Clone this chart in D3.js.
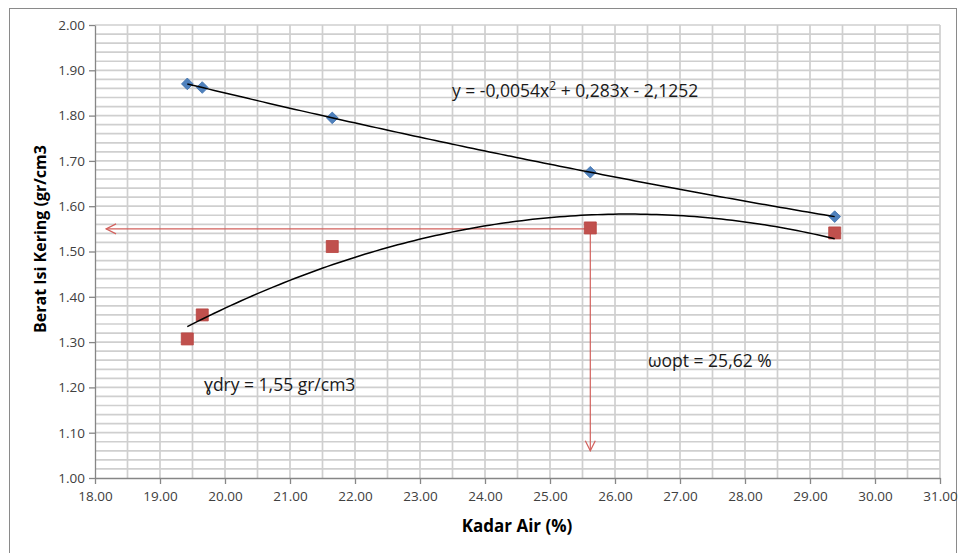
<!DOCTYPE html>
<html>
<head>
<meta charset="utf-8">
<script src="https://cdn.jsdelivr.net/npm/d3@7"></script>
<style>
  html, body { margin: 0; padding: 0; background: #fff; }
  svg { display: block; font-family: "Open Sans", "Noto Sans", sans-serif; }
</style>
</head>
<body>
<svg id="chart" width="960" height="553"></svg>
<script>
// Compaction test: water content (%) vs bulk/dry density (gr/cm3)
const kadarAir   = [19.42, 19.65, 21.65, 25.62, 29.38];
const beratBasah = [1.870, 1.862, 1.795, 1.675, 1.577];   // blue diamonds
const beratKering = [1.307, 1.360, 1.511, 1.552, 1.541];  // red squares

// Trend equation for dry density (as labelled on the chart)
const polyCoef = [-0.0054, 0.283, -2.1252];   // a x^2 + b x + c

// Optimum values
const wOpt = 25.62;
const gammaDry = 1.55;

// Axis ticks
const xTicks = d3.range(18, 31.001, 1);
const yTicks = d3.range(1, 2.001, 0.1);
const xGrid  = d3.range(18.5, 31.001, 0.5);
const yGrid  = d3.range(1.02, 2.001, 0.02);

// Text
const xTitle = "Kadar Air (%)";
const yTitle = "Berat Isi Kering (gr/cm3";
const eqText = ["y = -0,0054x", "2", " + 0,283x - 2,1252"];
const gammaText = "ɣdry = 1,55 gr/cm3";
const omegaText = "ωopt = 25,62 %";

const svg = d3.select("#chart");
const x = d3.scaleLinear().domain([18, 31]).range([95, 940]);
const y = d3.scaleLinear().domain([1, 2]).range([478, 25]);

// outer frame
svg.append("rect")
  .attr("x", 9.5).attr("y", 8.5).attr("width", 947).attr("height", 560)
  .attr("fill", "none").attr("stroke", "#8a8a8a").attr("stroke-width", 1);

// gridlines
const grid = svg.append("g").attr("stroke", "#cfcfcf").attr("stroke-width", 1.7);
grid.selectAll("line.v").data(xGrid).join("line")
  .attr("x1", d => x(d)).attr("x2", d => x(d))
  .attr("y1", y(2)).attr("y2", y(1));
grid.selectAll("line.h").data(yGrid).join("line")
  .attr("x1", x(18)).attr("x2", x(31))
  .attr("y1", d => y(d)).attr("y2", d => y(d));

// axes
const axisColor = "#868686";
const gy = svg.append("g").attr("transform", `translate(${x(18)},0)`)
  .call(d3.axisLeft(y).tickValues(yTicks).tickFormat(d3.format(".2f")).tickSize(6).tickSizeOuter(0));
const gx = svg.append("g").attr("transform", `translate(0,${y(1)})`)
  .call(d3.axisBottom(x).tickValues(xTicks).tickFormat(d3.format(".2f")).tickSize(6).tickSizeOuter(0));
[gx, gy].forEach(g => {
  g.select(".domain").attr("stroke", axisColor).attr("stroke-width", 1.3);
  g.selectAll(".tick line").attr("stroke", axisColor).attr("stroke-width", 1.3);
  g.selectAll(".tick text").attr("fill", "#404040")
    .style("font-family", "'Open Sans', sans-serif").style("font-size", "13.5px");
});
gy.selectAll(".tick text").attr("x", -10);
gx.selectAll(".tick text").attr("y", 13);

// axis titles
svg.append("text")
  .attr("x", 517).attr("y", 532)
  .attr("text-anchor", "middle")
  .attr("font-weight", "bold").attr("font-size", 17).attr("fill", "#000")
  .text(xTitle);
svg.append("text")
  .attr("transform", "translate(46,239) rotate(-90)")
  .attr("text-anchor", "middle")
  .attr("font-weight", "bold").attr("font-size", 16).attr("fill", "#000")
  .text(yTitle);

// quadratic least-squares fit for the wet-density trend
function quadFit(xs, ys) {
  let s = [0, 0, 0, 0, 0], t = [0, 0, 0];
  xs.forEach((xi, i) => {
    for (let k = 0; k < 5; k++) s[k] += Math.pow(xi, k);
    for (let k = 0; k < 3; k++) t[k] += Math.pow(xi, k) * ys[i];
  });
  // solve normal equations for c0 + c1 x + c2 x^2
  const A = [[s[0], s[1], s[2], t[0]], [s[1], s[2], s[3], t[1]], [s[2], s[3], s[4], t[2]]];
  for (let i = 0; i < 3; i++) {
    for (let j = i + 1; j < 3; j++) {
      const f = A[j][i] / A[i][i];
      for (let k = i; k < 4; k++) A[j][k] -= f * A[i][k];
    }
  }
  const c = [0, 0, 0];
  for (let i = 2; i >= 0; i--) {
    let v = A[i][3];
    for (let k = i + 1; k < 3; k++) v -= A[i][k] * c[k];
    c[i] = v / A[i][i];
  }
  return xv => c[0] + c[1] * xv + c[2] * xv * xv;
}

const xMin = d3.min(kadarAir), xMax = d3.max(kadarAir);
const xs = d3.range(xMin, xMax + 1e-9, (xMax - xMin) / 120);
const line = d3.line().x(d => x(d[0])).y(d => y(d[1]));

const wetFit = quadFit(kadarAir, beratBasah);
const dryFit = xv => polyCoef[0] * xv * xv + polyCoef[1] * xv + polyCoef[2];

// optimum arrows
const red = "#d2605c";
const defs = svg.append("defs");
defs.append("marker")
  .attr("id", "openArrow").attr("viewBox", "0 0 12 12")
  .attr("refX", 11).attr("refY", 6)
  .attr("markerWidth", 12).attr("markerHeight", 12)
  .attr("markerUnits", "userSpaceOnUse")
  .attr("orient", "auto")
  .append("path").attr("d", "M1,1 L11,6 L1,11")
  .attr("fill", "none").attr("stroke", red).attr("stroke-width", 1.2);

svg.append("line")
  .attr("x1", x(wOpt)).attr("y1", y(gammaDry))
  .attr("x2", x(18.17)).attr("y2", y(gammaDry))
  .attr("stroke", red).attr("stroke-width", 1.2)
  .attr("marker-end", "url(#openArrow)");
svg.append("line")
  .attr("x1", x(wOpt)).attr("y1", y(gammaDry))
  .attr("x2", x(wOpt)).attr("y2", y(1.06))
  .attr("stroke", red).attr("stroke-width", 1.2)
  .attr("marker-end", "url(#openArrow)");

// markers
svg.append("g").selectAll("path").data(kadarAir).join("path")
  .attr("d", d3.symbol(d3.symbolSquare, 144))
  .attr("transform", (d, i) => `translate(${x(d)},${y(beratKering[i])})`)
  .attr("fill", "#c0504d").attr("stroke", "#b8433f").attr("stroke-width", 0.8);

svg.append("g").selectAll("path").data(kadarAir).join("path")
  .attr("d", d3.symbol(d3.symbolSquare, 68))
  .attr("transform", (d, i) => `translate(${x(d)},${y(beratBasah[i])}) rotate(45)`)
  .attr("fill", "#4f81bd").attr("stroke", "#3f71ad").attr("stroke-width", 0.8);

// trend lines
svg.append("path").datum(xs.map(v => [v, wetFit(v)]))
  .attr("d", line).attr("fill", "none").attr("stroke", "#000").attr("stroke-width", 1.5);
svg.append("path").datum(xs.map(v => [v, dryFit(v)]))
  .attr("d", line).attr("fill", "none").attr("stroke", "#000").attr("stroke-width", 1.5);

// annotations
const eq = svg.append("text").attr("x", 452).attr("y", 97)
  .attr("font-size", 17.5).attr("fill", "#1a1a1a");
eq.append("tspan").text(eqText[0]);
eq.append("tspan").attr("dy", -7).attr("font-size", 12).text(eqText[1]);
eq.append("tspan").attr("dy", 7).text(eqText[2]);

svg.append("text").attr("x", 204).attr("y", 391)
  .attr("font-size", 17.5).attr("fill", "#1a1a1a").text(gammaText);
svg.append("text").attr("x", 648).attr("y", 367)
  .attr("font-size", 17.5).attr("fill", "#1a1a1a").text(omegaText);
</script>
</body>
</html>
